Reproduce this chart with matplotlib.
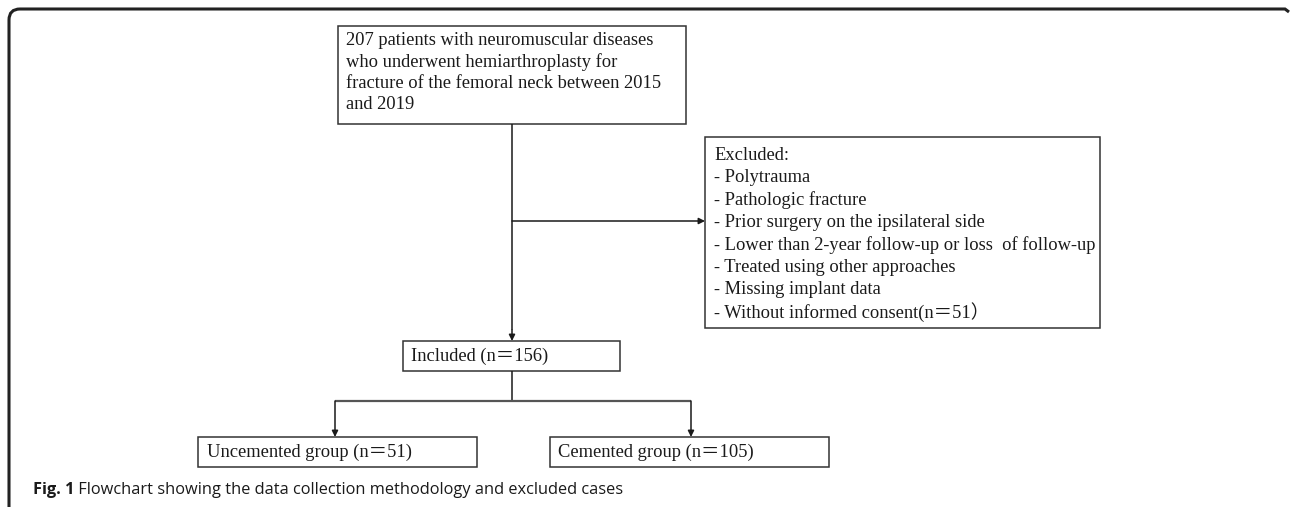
import matplotlib
matplotlib.use("Agg")
import matplotlib.pyplot as plt
from matplotlib.patches import Rectangle, PathPatch
from matplotlib.path import Path

# box texts
top_lines = ["207 patients with neuromuscular diseases",
             "who underwent hemiarthroplasty for",
             "fracture of the femoral neck between 2015",
             "and 2019"]
excluded_lines = ["Excluded:",
                  "- Polytrauma",
                  "- Pathologic fracture",
                  "- Prior surgery on the ipsilateral side",
                  "- Lower than 2-year follow-up or loss  of follow-up",
                  "- Treated using other approaches",
                  "- Missing implant data",
                  "- Without informed consent(n\uff1d51\uff09"]
included_label = "Included (n\uff1d156)"
group_labels = ["Uncemented group (n\uff1d51)", "Cemented group (n\uff1d105)"]
caption_bold = "Fig. 1"
caption_text = " Flowchart showing the data collection methodology and excluded cases"

serif = ["Liberation Serif", "Noto Sans CJK SC", "DejaVu Serif"]
fs = 13.3
cap_fs = 11.8
ink = "#1a1a1a"
edge = "#333333"

fig = plt.figure(figsize=(12.9, 5.07), dpi=100)
ax = fig.add_axes([0, 0, 1, 1])
ax.set_xlim(0, 1290)
ax.set_ylim(507, 0)
ax.axis("off")

# outer border, rounded top-left corner
verts = [(9, 507), (9, 20), (9, 9), (20, 9), (1285, 9), (1289, 12)]
codes = [Path.MOVETO, Path.LINETO, Path.CURVE3, Path.CURVE3, Path.LINETO, Path.LINETO]
ax.add_patch(PathPatch(Path(verts, codes), fill=False, lw=2.2, edgecolor="#222222"))


def box(x0, y0, x1, y1):
    ax.add_patch(Rectangle((x0, y0), x1 - x0, y1 - y0, fill=False,
                           lw=1.1, edgecolor=edge))


def arrow(x0, y0, x1, y1):
    ax.annotate("", xy=(x1, y1), xytext=(x0, y0),
                arrowprops=dict(arrowstyle="-|>", color=ink, lw=1.1,
                                mutation_scale=9, shrinkA=0, shrinkB=0))


def line(xs, ys, lw=1.1, c=ink):
    ax.plot(xs, ys, color=c, lw=lw, solid_capstyle="butt")


def label(x, y, t):
    ax.text(x, y, t, fontsize=fs, family=serif, color=ink,
            va="center", ha="left")


# top box
box(338, 26, 686, 124)
for i, t in enumerate(top_lines):
    label(346, 40.5 + i * 21.3, t)

# main vertical and branch to excluded
line([512, 512], [124, 330])
arrow(512, 330, 512, 341)
arrow(512, 221, 705, 221)

# excluded box
box(705, 137, 1100, 328)
for i, t in enumerate(excluded_lines):
    label(714, 155 + i * 22.4, t)

# included box
box(403, 341, 620, 371)
label(411, 356, included_label)

# split into the two groups
line([512, 512], [371, 401])
line([335, 691], [401, 401], lw=1.6, c="#555555")
arrow(335, 401, 335, 437)
arrow(691, 401, 691, 437)

box(198, 437, 477, 467)
label(207, 452, group_labels[0])
box(550, 437, 829, 467)
label(558, 452, group_labels[1])

# caption
cap = ax.text(33, 490, caption_bold, fontsize=cap_fs, family="Open Sans",
              fontweight="bold", color=ink, va="center", ha="left")
ax.annotate(caption_text, xy=(1, 0.5), xycoords=cap, fontsize=cap_fs,
            family="Open Sans", color=ink, va="center", ha="left")

fig.savefig("out.png", dpi=100, facecolor="white")
